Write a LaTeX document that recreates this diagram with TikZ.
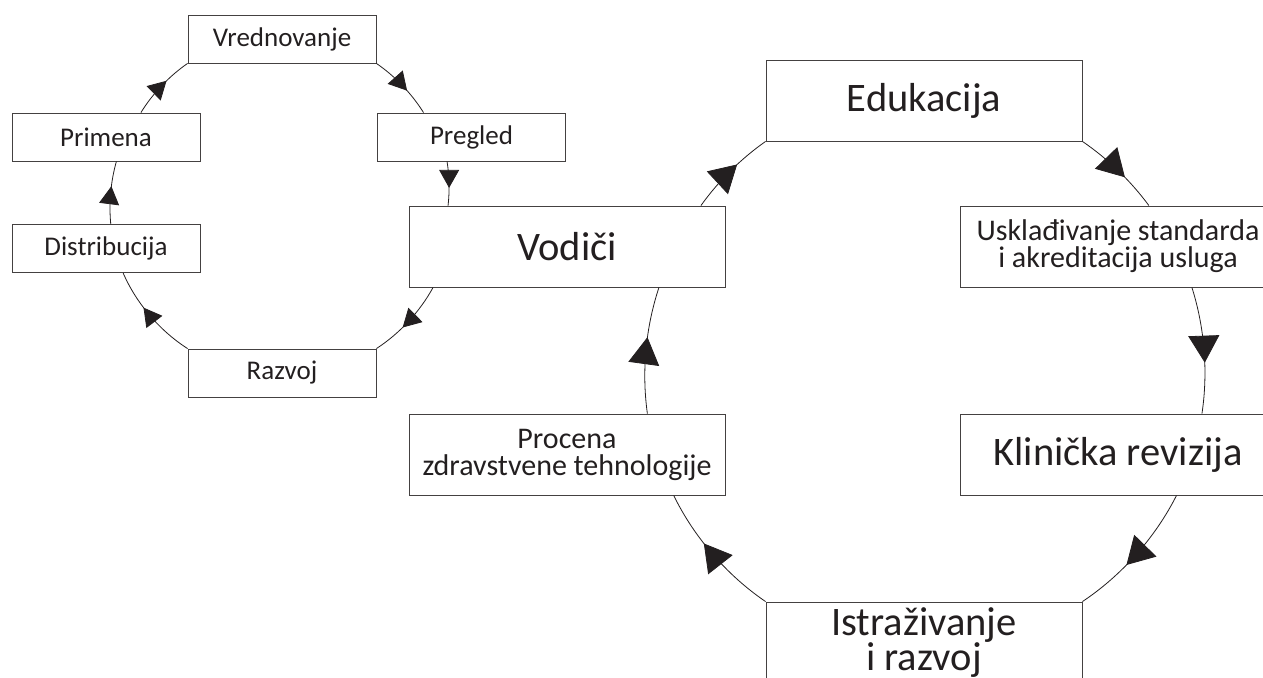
\documentclass[tikz,border=0pt]{standalone}
\usepackage{fontspec}
\setmainfont{Carlito}
\usetikzlibrary{arrows.meta,decorations.markings}

\definecolor{tekst}{HTML}{231F20}

\begin{document}
\begin{tikzpicture}[x=1pt,y=1pt,
    smallbox/.style={draw=tekst!85, line width=0.9pt, minimum width=188pt, minimum height=48pt,
        inner sep=0pt, text=tekst, font=\fontsize{27}{27}\selectfont},
    bigbox/.style={draw=tekst!85, line width=0.9pt, minimum width=316pt, minimum height=81pt,
        inner sep=0pt, text=tekst, align=center, font=\fontsize{40.5}{33}\selectfont},
    midbox/.style={bigbox, font=\fontsize{30}{27}\selectfont},
    smallarc/.style={draw=tekst, line width=0.8pt, looseness=0.85, postaction={decorate},
        decoration={markings, mark=at position 0.6 with {\arrow{Triangle[length=18pt,width=20pt]}}}},
    bigarc/.style={draw=tekst, line width=0.8pt, looseness=0.85, postaction={decorate},
        decoration={markings, mark=at position 0.6 with {\arrow{Triangle[length=27pt,width=31pt]}}}}]
    \useasboundingbox (0,0) rectangle (1263,-677);
    \clip (0,0) rectangle (1263,-677);

    % Small cycle
    \node[smallbox] (vred) at (282,-39) {Vrednovanje};
    \node[smallbox] (pregled) at (471.5,-137) {Pregled};
    \node[smallbox] (razvoj) at (282,-373) {Razvoj};
    \node[smallbox] (distr) at (106,-248.5) {Distribucija};
    \node[smallbox] (primena) at (106,-137) {Primena};

    % Large cycle
    \node[bigbox] (vodici) at (567,-246.5) {Vodiči};
    \node[bigbox] (edukacija) at (924,-100.5) {Edukacija};
    \node[midbox, font=\fontsize{30}{24}\selectfont] (uskla) at (1118,-246.5) {Usklađivanje standarda\\i akreditacija usluga};
    \node[bigbox] (klin) at (1118,-454.5) {Klinička revizija};
    \node[bigbox] (istr) at (924,-642.5) {Istraživanje\\i razvoj};
    \node[midbox] (procena) at (567,-454.5) {Procena\\zdravstvene tehnologije};

    % Arrows, small cycle
    \draw[smallarc] (vred.south east) to[bend left=11.7] (pregled.153);
    \draw[smallarc] (pregled.225) to[bend left=7.7] (vodici.161);
    \draw[smallarc] (vodici.197) to[bend left=14.2] (razvoj.north east);
    \draw[smallarc] (razvoj.north west) to[bend left=17] (distr.305);
    \draw[smallarc] (distr.79) to[bend left=10.6] (primena.293);
    \draw[smallarc] (primena.35) to[bend left=11.8] (vred.south west);

    % Arrows, large cycle
    \draw[bigarc] (vodici.17) to[bend left=9.7] (edukacija.south west);
    \draw[bigarc] (edukacija.south east) to[bend left=9.6] (uskla.53);
    \draw[bigarc] (uskla.331) to[bend left=13.1] (klin.26);
    \draw[bigarc] (klin.325) to[bend left=14.8] (istr.north east);
    \draw[bigarc] (istr.north west) to[bend left=14.9] (procena.339);
    \draw[bigarc] (procena.27) to[bend left=13.2] (vodici.336);
\end{tikzpicture}
\end{document}
